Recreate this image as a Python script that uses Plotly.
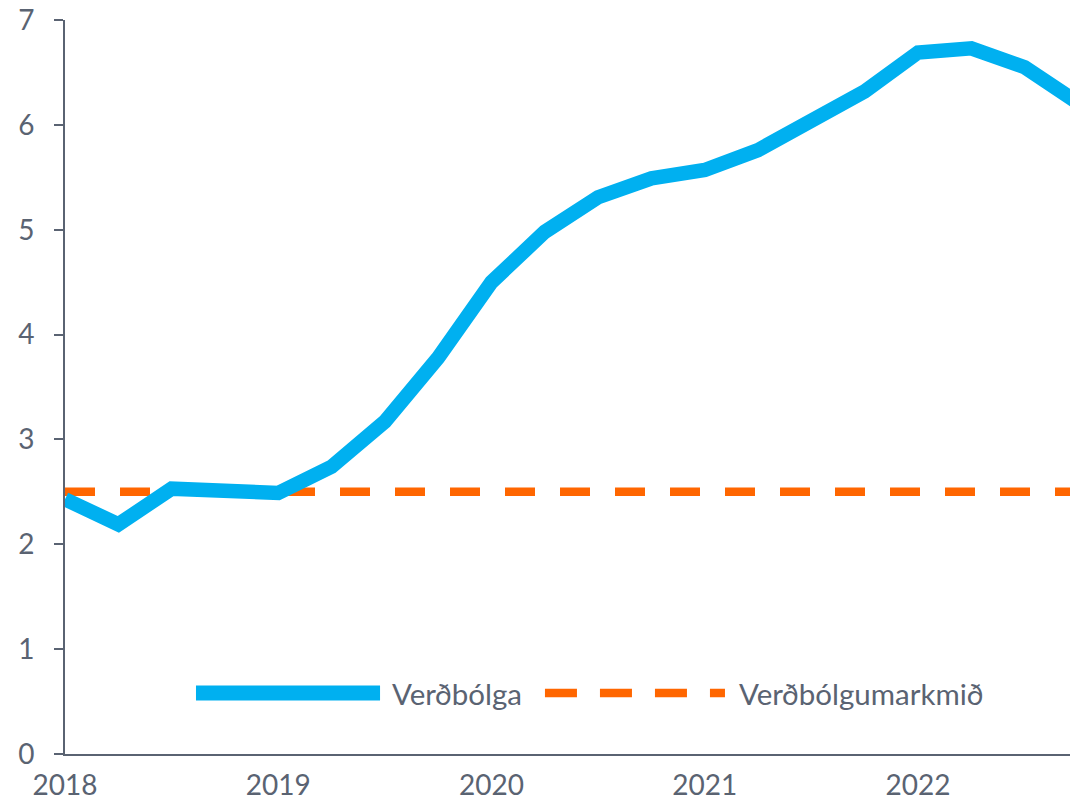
import plotly.graph_objects as go

# Quarterly data
quarters = [2018.0, 2018.25, 2018.5, 2018.75, 2019.0, 2019.25, 2019.5, 2019.75,
            2020.0, 2020.25, 2020.5, 2020.75, 2021.0, 2021.25, 2021.5, 2021.75,
            2022.0, 2022.25, 2022.5, 2022.75]
verdbolga = [2.43, 2.19, 2.53, 2.52, 2.49, 2.74, 3.17, 3.78,
             4.50, 4.98, 5.31, 5.49, 5.57, 5.76, 6.03, 6.32,
             6.69, 6.73, 6.55, 6.21]
markmid = [2.5] * len(quarters)

year_ticks = [2018, 2019, 2020, 2021, 2022]
year_labels = ["2018", "2019", "2020", "2021", "2022"]
y_ticks = [0, 1, 2, 3, 4, 5, 6, 7]

names = ["Verðbólga", "Verðbólgumarkmið"]

BLUE = "#00B0F0"
ORANGE = "#FF6600"
GREY = "#5A6372"
FONT = "Lato"

fig = go.Figure()
fig.add_trace(go.Scatter(x=quarters, y=markmid, mode="lines", name=names[1],
                         line=dict(color=ORANGE, width=8.5, dash="30px,25px"),
                         showlegend=False, hoverinfo="skip"))
fig.add_trace(go.Scatter(x=quarters, y=verdbolga, mode="lines", name=names[0],
                         line=dict(color=BLUE, width=14.5),
                         showlegend=False))

# custom legend (paper coordinates)
ly = 0.083
fig.add_shape(type="line", xref="paper", yref="paper", x0=0.1293, x1=0.311, y0=ly, y1=ly,
              line=dict(color=BLUE, width=15))
fig.add_annotation(xref="paper", yref="paper", x=0.3208, y=ly, text=names[0],
                   showarrow=False, xanchor="left", yanchor="middle",
                   font=dict(family=FONT, size=29.5, color=GREY))
fig.add_shape(type="line", xref="paper", yref="paper", x0=0.4738, x1=0.6515, y0=ly, y1=ly,
              line=dict(color=ORANGE, width=8.5, dash="32px,23px"))
fig.add_annotation(xref="paper", yref="paper", x=0.6634, y=ly, text=names[1],
                   showarrow=False, xanchor="left", yanchor="middle",
                   font=dict(family=FONT, size=29.5, color=GREY))

fig.update_layout(
    width=1078, height=790,
    margin=dict(l=57, r=8, t=12, b=44),
    paper_bgcolor="white", plot_bgcolor="white",
    font=dict(family=FONT, size=28, color=GREY),
    showlegend=False,
)
fig.update_xaxes(range=[2018, 2022.75], tickvals=year_ticks, ticktext=year_labels,
                 showgrid=False, zeroline=False, showline=True, linecolor=GREY, linewidth=2,
                 ticks="", ticklabelstandoff=5, automargin=False, ticklabeloverflow="allow",
                 tickfont=dict(family=FONT, size=28, color=GREY))
fig.update_yaxes(range=[0, 7], tickvals=y_ticks, showgrid=False, zeroline=False,
                 showline=True, linecolor=GREY, linewidth=2,
                 ticks="outside", ticklen=9, tickwidth=2, tickcolor=GREY,
                 automargin=False, ticklabeloverflow="allow",
                 ticklabelstandoff=14, tickfont=dict(family=FONT, size=28, color=GREY))

fig.write_html("out.html")
